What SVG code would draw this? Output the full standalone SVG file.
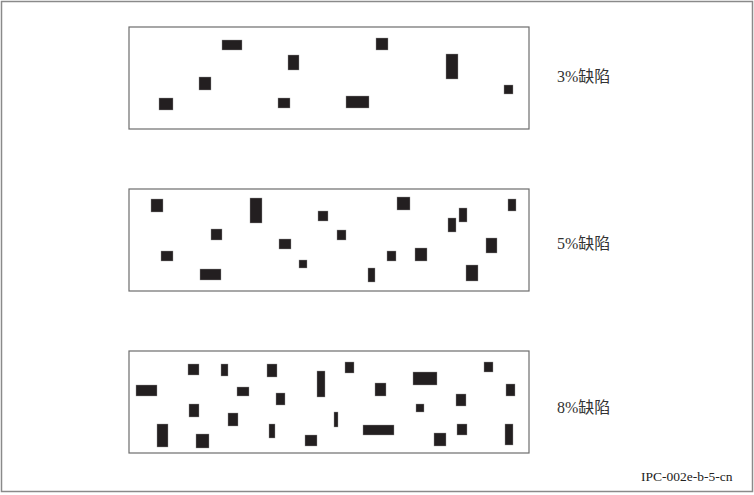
<svg xmlns="http://www.w3.org/2000/svg" width="754" height="495" viewBox="0 0 754 495">
<style>
.frame{fill:#fff;stroke:#8a8a8a;stroke-width:1.5}
.panel{fill:#fff;stroke:#6d6d6d;stroke-width:1.2}
.d{fill:#231f20;stroke:#9a9a9a;stroke-width:0.4}
.lbl{font-family:"Liberation Serif","Noto Sans CJK SC",serif;font-size:16px;fill:#333}
.code{font-family:"Liberation Serif",serif;font-size:13.5px;fill:#222}
</style>
<rect class="frame" x="1.5" y="1.5" width="751" height="490"/>
<g id="panel-3pct">
<rect class="panel" x="129" y="27" width="400" height="102"/>
<rect class="d" x="222" y="40" width="20" height="10"/>
<rect class="d" x="376" y="38" width="12" height="12"/>
<rect class="d" x="288" y="55" width="11" height="15"/>
<rect class="d" x="446" y="54" width="12" height="25"/>
<rect class="d" x="199" y="77" width="12" height="13"/>
<rect class="d" x="504" y="85" width="9" height="9"/>
<rect class="d" x="159" y="98" width="14" height="12"/>
<rect class="d" x="278" y="98" width="12" height="10"/>
<rect class="d" x="346" y="96" width="23" height="12"/>
<text class="lbl" x="557" y="81.5">3%缺陷</text>
</g>
<g id="panel-5pct">
<rect class="panel" x="129" y="189" width="400" height="102"/>
<rect class="d" x="151" y="199" width="12" height="13"/>
<rect class="d" x="250" y="198" width="12" height="25"/>
<rect class="d" x="318" y="211" width="10" height="10"/>
<rect class="d" x="397" y="197" width="13" height="13"/>
<rect class="d" x="508" y="199" width="8" height="12"/>
<rect class="d" x="459" y="208" width="8" height="14"/>
<rect class="d" x="448" y="218" width="8" height="14"/>
<rect class="d" x="211" y="229" width="11" height="11"/>
<rect class="d" x="337" y="230" width="9" height="10"/>
<rect class="d" x="279" y="239" width="12" height="10"/>
<rect class="d" x="486" y="238" width="11" height="15"/>
<rect class="d" x="161" y="251" width="12" height="10"/>
<rect class="d" x="387" y="251" width="9" height="10"/>
<rect class="d" x="415" y="248" width="12" height="13"/>
<rect class="d" x="299" y="260" width="8" height="8"/>
<rect class="d" x="200" y="269" width="21" height="11"/>
<rect class="d" x="368" y="268" width="7" height="14"/>
<rect class="d" x="466" y="265" width="12" height="16"/>
<text class="lbl" x="557" y="249">5%缺陷</text>
</g>
<g id="panel-8pct">
<rect class="panel" x="129" y="351" width="400" height="102"/>
<rect class="d" x="188" y="364" width="11" height="11"/>
<rect class="d" x="221" y="364" width="7" height="12"/>
<rect class="d" x="267" y="364" width="10" height="13"/>
<rect class="d" x="345" y="362" width="9" height="11"/>
<rect class="d" x="484" y="362" width="9" height="10"/>
<rect class="d" x="317" y="371" width="8" height="26"/>
<rect class="d" x="413" y="372" width="24" height="13"/>
<rect class="d" x="136" y="385" width="21" height="11"/>
<rect class="d" x="237" y="387" width="12" height="9"/>
<rect class="d" x="375" y="383" width="11" height="13"/>
<rect class="d" x="506" y="384" width="9" height="12"/>
<rect class="d" x="276" y="393" width="9" height="12"/>
<rect class="d" x="456" y="394" width="10" height="12"/>
<rect class="d" x="189" y="404" width="10" height="13"/>
<rect class="d" x="416" y="404" width="8" height="8"/>
<rect class="d" x="228" y="413" width="10" height="13"/>
<rect class="d" x="334" y="412" width="4" height="15"/>
<rect class="d" x="269" y="424" width="6" height="14"/>
<rect class="d" x="363" y="425" width="31" height="10"/>
<rect class="d" x="457" y="424" width="10" height="11"/>
<rect class="d" x="157" y="424" width="11" height="23"/>
<rect class="d" x="196" y="434" width="13" height="14"/>
<rect class="d" x="305" y="435" width="12" height="11"/>
<rect class="d" x="434" y="433" width="12" height="13"/>
<rect class="d" x="505" y="424" width="8" height="21"/>
<text class="lbl" x="557" y="413">8%缺陷</text>
</g>
<g id="connectors"/>
<text class="code" x="641" y="480.5">IPC-002e-b-5-cn</text>
</svg>
